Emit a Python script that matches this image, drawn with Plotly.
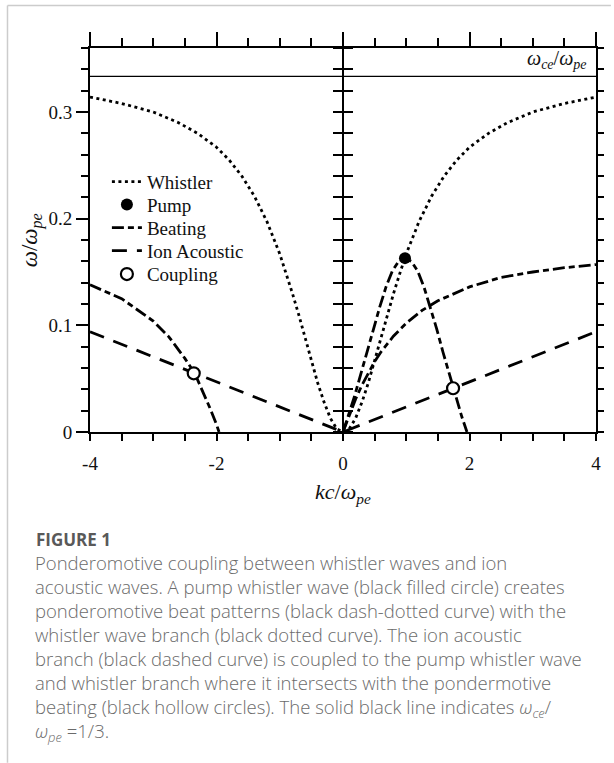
import plotly.graph_objects as go

# ---- dispersion branches (k c / w_pe  vs  w / w_pe) ----
k_whistler = [-4.0, -3.5, -3.0, -2.6, -2.3, -2.0, -1.8, -1.6, -1.4, -1.2, -1.0, -0.9, -0.8,
              -0.7, -0.6, -0.5, -0.4, -0.3, -0.2, -0.1, 0.0, 0.1, 0.2, 0.3, 0.4, 0.5, 0.6,
              0.7, 0.8, 0.9, 1.0, 1.2, 1.4, 1.6, 1.8, 2.0, 2.3, 2.6, 3.0, 3.5, 4.0]
w_whistler = [0.314, 0.308, 0.300, 0.290, 0.280, 0.267, 0.255, 0.240, 0.221, 0.197, 0.167,
              0.149, 0.130, 0.110, 0.088, 0.067, 0.046, 0.028, 0.013, 0.003, 0.000, 0.003,
              0.013, 0.028, 0.046, 0.067, 0.088, 0.110, 0.130, 0.149, 0.167, 0.197, 0.221,
              0.240, 0.255, 0.267, 0.280, 0.290, 0.300, 0.308, 0.314]

# beating branch through the pump
k_beat_pump = [0.00, 0.08, 0.18, 0.28, 0.38, 0.48, 0.58, 0.68, 0.78, 0.88, 0.98, 1.08, 1.18,
               1.28, 1.38, 1.48, 1.58, 1.68, 1.78, 1.88, 1.96]
w_beat_pump = [0.000, 0.014, 0.033, 0.054, 0.075, 0.097, 0.117, 0.136, 0.151, 0.160, 0.163,
               0.160, 0.151, 0.136, 0.117, 0.097, 0.075, 0.054, 0.033, 0.014, 0.000]

# beating branch, k > 0 side
k_beat_right = [0.0, 0.1, 0.2, 0.3, 0.4, 0.5, 0.6, 0.8, 1.0, 1.25, 1.5, 2.0, 2.5, 3.0, 3.5, 4.0]
w_beat_right = [0.000, 0.016, 0.031, 0.044, 0.055, 0.066, 0.075, 0.090, 0.102, 0.114, 0.123,
                0.136, 0.145, 0.150, 0.154, 0.157]

# beating branch, k < 0 side
k_beat_left = [-4.0, -3.5, -3.0, -2.75, -2.5, -2.4, -2.3, -2.2, -2.1, -2.0, -1.96]
w_beat_left = [0.138, 0.125, 0.104, 0.089, 0.069, 0.060, 0.049, 0.036, 0.022, 0.007, 0.000]

# ion acoustic branch
k_ion = [-4.0, 0.0, 4.0]
w_ion = [0.094, 0.000, 0.094]

# pump wave and coupling points
k_pump = [0.98]
w_pump = [0.163]
k_coupling = [-2.36, 1.74]
w_coupling = [0.055, 0.041]

# electron cyclotron frequency
k_ce = [-4.0, 4.0]
w_ce = [1 / 3, 1 / 3]

x_ticks = [-4, -2, 0, 2, 4]
x_tick_text = ["-4", "-2", "0", "2", "4"]
y_ticks = [0, 0.1, 0.2, 0.3]
y_tick_text = ["0", "0.1", "0.2", "0.3"]

caption_lines = [
    "Ponderomotive coupling between whistler waves and ion",
    "acoustic waves. A pump whistler wave (black filled circle) creates",
    "ponderomotive beat patterns (black dash-dotted curve) with the",
    "whistler wave branch (black dotted curve). The ion acoustic",
    "branch (black dashed curve) is coupled to the pump whistler wave",
    "and whistler branch where it intersects with the pondermotive",
    "beating (black hollow circles). The solid black line indicates <i>ω<sub>ce</sub></i>/",
    "<i>ω<sub>pe</sub></i> =1/3.",
]

SERIF = "Liberation Serif"
SANS = "Open Sans"
LW = 2.8

# plot-area geometry in pixels (used for paper-coordinate placement of page furniture)
PX_L, PX_R, PX_T, PX_B = 90, 599, 48.3, 432.3


def px_x(px):
    return (px - PX_L) / (PX_R - PX_L)


def px_y(py):
    return (PX_B - py) / (PX_B - PX_T)


# beating drawn as one trace, segments separated by gaps
k_beat = k_beat_left + [None] + k_beat_pump + [None] + k_beat_right
w_beat = w_beat_left + [None] + w_beat_pump + [None] + w_beat_right

fig = go.Figure()
fig.add_trace(go.Scatter(x=k_ce, y=w_ce, mode="lines", showlegend=False,
                         line=dict(color="black", width=1.3), hoverinfo="skip"))
fig.add_trace(go.Scatter(x=k_whistler, y=w_whistler, mode="lines", name="Whistler",
                         legend="legend",
                         line=dict(color="black", width=LW, dash="3px,3.5px")))
fig.add_trace(go.Scatter(x=k_beat, y=w_beat, mode="lines", name="Beating",
                         legend="legend3",
                         line=dict(color="black", width=LW, dash="12px,4px,6px,4px")))
fig.add_trace(go.Scatter(x=k_ion, y=w_ion, mode="lines", name="Ion Acoustic",
                         legend="legend4",
                         line=dict(color="black", width=LW, dash="15px,10px")))
fig.add_trace(go.Scatter(x=k_pump, y=w_pump, mode="markers", name="Pump",
                         legend="legend2",
                         marker=dict(color="black", size=12)))
fig.add_trace(go.Scatter(x=k_coupling, y=w_coupling, mode="markers", name="Coupling",
                         legend="legend5",
                         marker=dict(color="white", size=12, line=dict(color="black", width=2.2))))

axis_common = dict(showgrid=False, zeroline=False, showline=True, linecolor="black",
                   linewidth=2, tickcolor="black", tickwidth=2)

# one legend box per entry so the rows sit at the same spacing as the figure
legend_rows = [182, 205, 228, 251, 274.5]
legend_layout = {}
for i, yc in enumerate(legend_rows):
    key = "legend" if i == 0 else f"legend{i + 1}"
    legend_layout[key] = dict(x=px_x(107), y=px_y(yc), xanchor="left", yanchor="middle",
                              bgcolor="rgba(0,0,0,0)", borderwidth=0,
                              font=dict(family=SERIF, size=19, color="#111"))

fig.update_layout(
    width=614, height=763,
    margin=dict(l=PX_L, r=614 - PX_R, t=PX_T, b=763 - PX_B),
    paper_bgcolor="white", plot_bgcolor="white",
    font=dict(family=SERIF, size=18, color="#111"),
    xaxis=dict(range=[-4, 4], side="bottom", ticks="outside", ticklen=7,
               tickmode="array", tickvals=x_ticks, ticktext=x_tick_text,
               ticklabelstandoff=6, tickfont=dict(family=SERIF, size=19),
               minor=dict(dtick=0.5, tick0=0, ticks="outside", ticklen=7,
                          tickwidth=2, tickcolor="black"),
               **axis_common),
    xaxis2=dict(range=[-4, 4], overlaying="x", side="top", ticks="outside", ticklen=14,
                tick0=0, dtick=2, showticklabels=False,
                minor=dict(dtick=0.5, tick0=0, ticks="outside", ticklen=8,
                           tickwidth=2, tickcolor="black"),
                **axis_common),
    yaxis=dict(range=[0, 0.36], side="left", ticks="outside", ticklen=12,
               tickmode="array", tickvals=y_ticks, ticktext=y_tick_text,
               tickfont=dict(family=SERIF, size=19),
               minor=dict(dtick=0.02, tick0=0, ticks="outside", ticklen=7,
                          tickwidth=2, tickcolor="black"),
               **axis_common),
    yaxis2=dict(range=[0, 0.36], overlaying="y", side="right", ticks="outside", ticklen=6,
                tick0=0, dtick=0.02, showticklabels=False, **axis_common),
    yaxis3=dict(range=[0, 0.36], overlaying="y", anchor="free", position=0.5, side="left",
                ticks="outside", ticklen=9, tick0=0, dtick=0.02, showticklabels=False,
                **axis_common),
    yaxis4=dict(range=[0, 0.36], overlaying="y", anchor="free", position=0.5, side="right",
                ticks="outside", ticklen=9, tick0=0, dtick=0.02, showticklabels=False,
                **axis_common),
    **legend_layout,
)

# attach each overlay axis to an invisible copy of the cyclotron line so it renders
for xa, ya in [("x2", "y"), ("x", "y2"), ("x", "y3"), ("x", "y4")]:
    fig.add_trace(go.Scatter(x=k_ce, y=w_ce, xaxis=xa, yaxis=ya, mode="lines",
                             line=dict(width=0), showlegend=False, hoverinfo="skip"))

# caption block: line pitch is 1.3 x font size
CAP_SIZE = 18.5
cap_first, cap_pitch = 564.5, 1.3 * CAP_SIZE
cap_center = cap_first + cap_pitch * (len(caption_lines) - 1) / 2

annotations = [
    dict(x=3.88, y=1 / 3, xref="x", yref="y", xanchor="right", yanchor="bottom", yshift=2,
         text="<i>ω<sub>ce</sub></i>/<i>ω<sub>pe</sub></i>", showarrow=False,
         font=dict(family=SERIF, size=20, color="#111")),
    dict(x=0.5, y=px_y(493), xref="paper", yref="paper", xanchor="center", yanchor="middle",
         text="<i>kc</i>/<i>ω<sub>pe</sub></i>", showarrow=False,
         font=dict(family=SERIF, size=22, color="#111")),
    dict(x=px_x(31), y=0.5, xref="paper", yref="paper", xanchor="center", yanchor="middle",
         text="<i>ω</i>/<i>ω<sub>pe</sub></i>", showarrow=False, textangle=-90,
         font=dict(family=SERIF, size=23, color="#111")),
    dict(x=px_x(34), y=px_y(540), xref="paper", yref="paper",
         xanchor="left", yanchor="middle", text="<b>FIGURE 1</b>", showarrow=False,
         font=dict(family=SANS, size=17, color="#595959")),
    dict(x=px_x(33), y=px_y(cap_center), xref="paper", yref="paper",
         xanchor="left", yanchor="middle", align="left",
         text="<br>".join(caption_lines), showarrow=False,
         font=dict(family=SANS, size=CAP_SIZE, weight=300, color="#6b6b6b")),
]
fig.update_layout(annotations=annotations)

# page card border
fig.update_layout(shapes=[
    dict(type="line", xref="paper", yref="paper", x0=px_x(7), x1=px_x(614),
         y0=px_y(5.7), y1=px_y(5.7), line=dict(color="#cccccc", width=1.5)),
    dict(type="line", xref="paper", yref="paper", x0=px_x(7), x1=px_x(7),
         y0=px_y(5.7), y1=px_y(763), line=dict(color="#cccccc", width=1.5)),
])

fig.write_html("out.html")
